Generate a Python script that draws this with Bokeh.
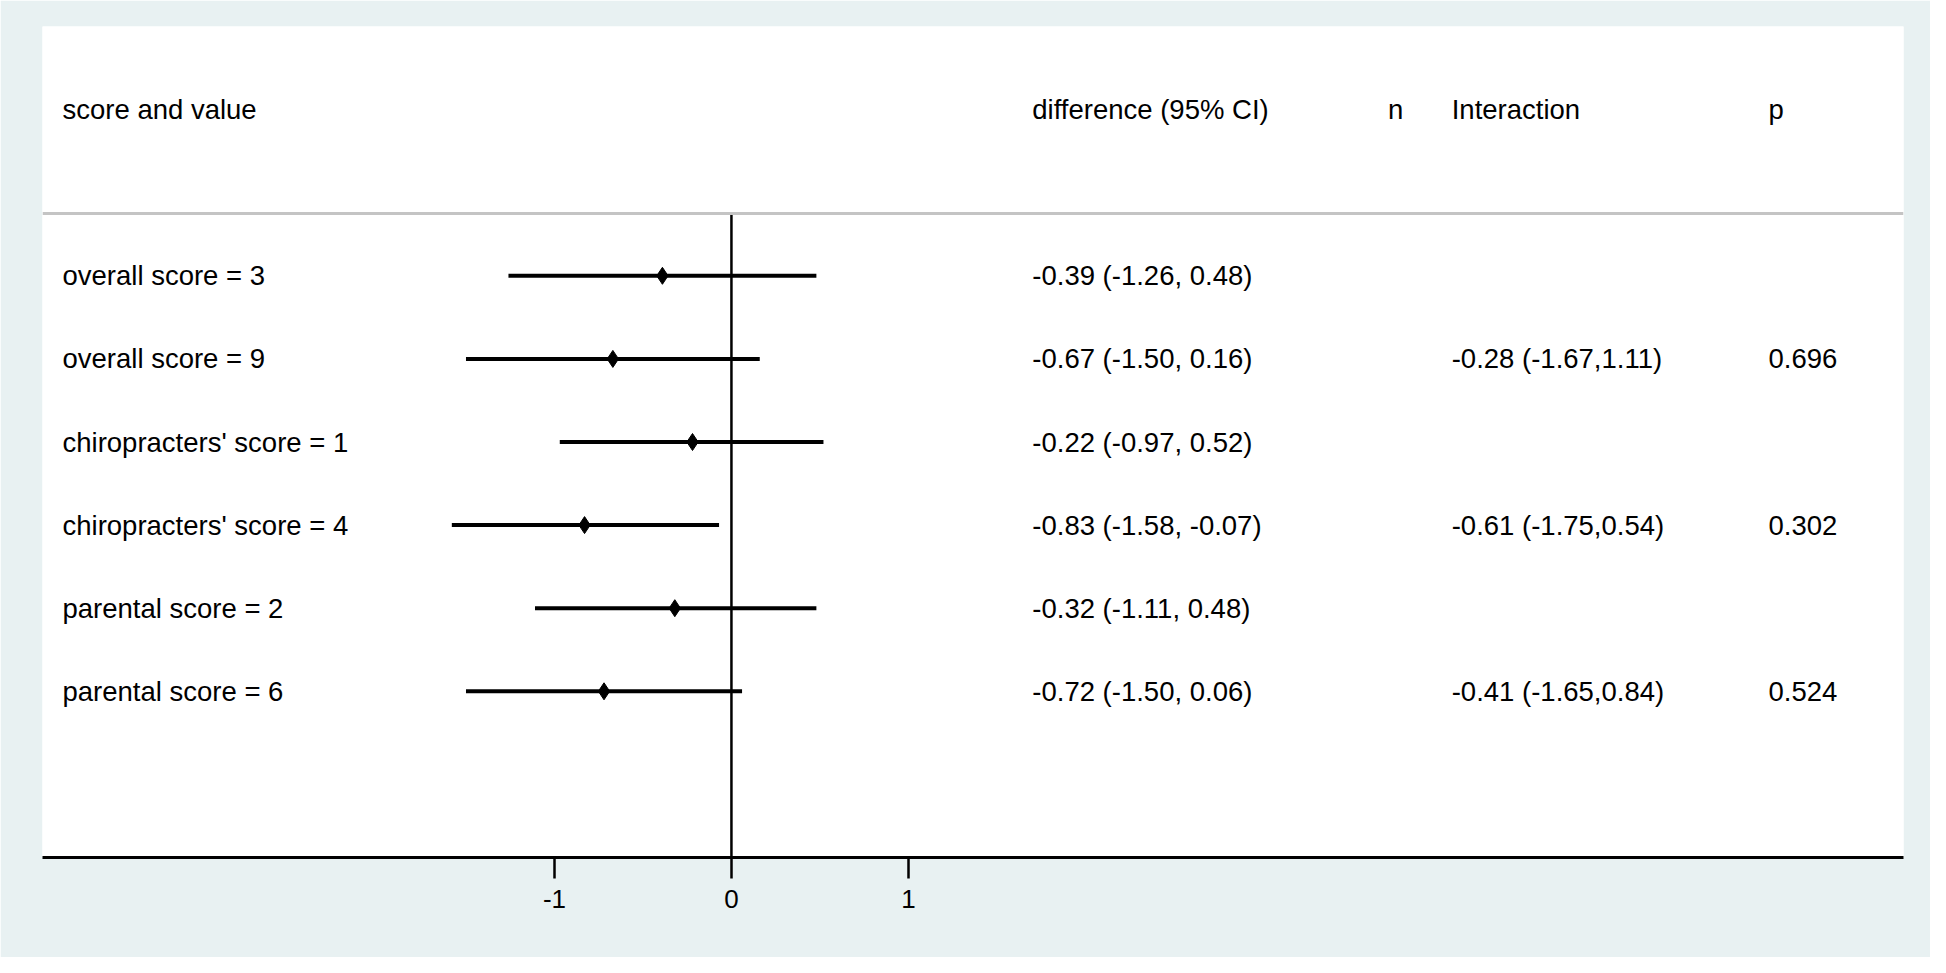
from bokeh.plotting import figure
from bokeh.models import Range1d, FixedTicker, Span, ColumnDataSource
from bokeh.core.properties import value
from bokeh.embed import file_html
from bokeh.resources import INLINE

# ---- data ----
labels = ["overall score = 3", "overall score = 9",
          "chiropracters' score = 1", "chiropracters' score = 4",
          "parental score = 2", "parental score = 6"]
estimate = [-0.39, -0.67, -0.22, -0.83, -0.32, -0.72]
lower = [-1.26, -1.50, -0.97, -1.58, -1.11, -1.50]
upper = [0.48, 0.16, 0.52, -0.07, 0.48, 0.06]

inter_rows = [2, 4, 6]
inter_est = [-0.28, -0.61, -0.41]
inter_lo = [-1.67, -1.75, -1.65]
inter_hi = [1.11, 0.54, 0.84]
p_values = ["0.696", "0.302", "0.524"]

headers = ["score and value", "difference (95% CI)", "n", "Interaction", "p"]
ticks = [-1, 0, 1]

rows = list(range(1, len(labels) + 1))

# ---- layout constants ----
BG = "#E8F1F2"
FONT = value("Liberation Sans")
FS = "27.5px"
col_label, col_diff, col_n, col_inter, col_p = -3.78, 1.70, 3.71, 4.07, 5.86
header_y = -1
sep_y = 0.25

p = figure(width=1930, height=957, output_backend="svg", toolbar_location=None,
           x_range=Range1d(-3.893, 6.623), y_range=Range1d(8, -2),
           min_border_left=42, min_border_right=27, min_border_top=26,
           min_border_bottom=100)
p.background_fill_color = "white"
p.border_fill_color = BG
p.outline_line_color = None
p.xgrid.visible = False
p.ygrid.visible = False
p.yaxis.visible = False

ax = p.xaxis[0]
ax.ticker = FixedTicker(ticks=ticks)
ax.major_label_overrides = {t: str(t) for t in ticks}
ax.axis_line_width = 3
ax.axis_line_color = "black"
ax.major_tick_line_width = 2.5
ax.major_tick_line_color = "black"
ax.major_tick_out = 21
ax.major_tick_in = 0
ax.minor_tick_line_color = None
ax.major_label_text_font = "Liberation Sans"
ax.major_label_text_font_size = "26px"
ax.major_label_text_color = "black"
ax.major_label_standoff = 11

# separator line under header
p.add_layout(Span(location=sep_y, dimension="width", line_color="#c4c4c4", line_width=3))

# zero reference line
p.segment(x0=[0], y0=[sep_y], x1=[0], y1=[8], line_color="black", line_width=2.5)

# CIs and estimates
src = ColumnDataSource(dict(
    y=rows, est=estimate, lo=lower, hi=upper, lab=labels,
    diff=[f"{e:.2f} ({l:.2f}, {u:.2f})" for e, l, u in zip(estimate, lower, upper)],
))
p.segment(x0="lo", y0="y", x1="hi", y1="y", source=src, line_color="black", line_width=4)
p.scatter(x="est", y="y", source=src, marker="diamond", size=17,
          fill_color="black", line_color="black")

common = dict(text_font=FONT, text_font_size=FS, text_color="black",
              text_baseline="middle", text_align="left")

p.text(x=col_label, y="y", text="lab", source=src, **common)
p.text(x=col_diff, y="y", text="diff", source=src, **common)

isrc = ColumnDataSource(dict(
    y=inter_rows,
    txt=[f"{e:.2f} ({l:.2f},{h:.2f})" for e, l, h in zip(inter_est, inter_lo, inter_hi)],
    pv=p_values,
))
p.text(x=col_inter, y="y", text="txt", source=isrc, **common)
p.text(x=col_p, y="y", text="pv", source=isrc, **common)

hsrc = ColumnDataSource(dict(
    x=[col_label, col_diff, col_n, col_inter, col_p],
    y=[header_y] * len(headers),
    t=headers,
))
p.text(x="x", y="y", text="t", source=hsrc, **common)

open("out.html", "w").write(file_html(p, INLINE))
